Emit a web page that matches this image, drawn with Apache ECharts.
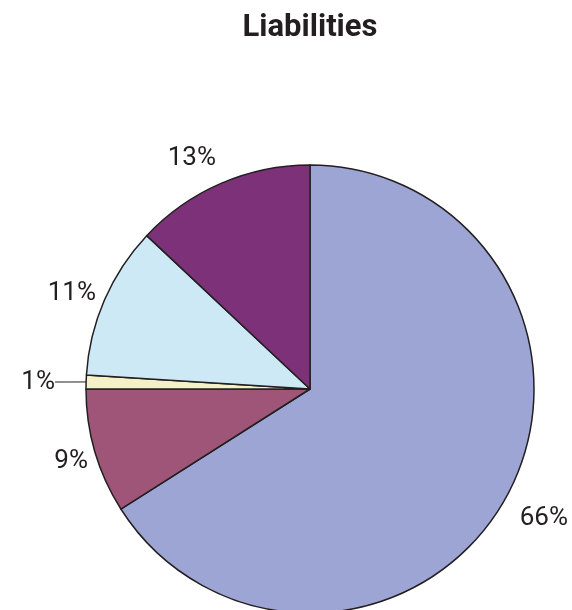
<!DOCTYPE html>
<html>
<head>
<meta charset="utf-8">
<style>
  html, body { margin: 0; padding: 0; background: #ffffff; }
  #chart { width: 572px; height: 610px; }
</style>
<script src="https://cdn.jsdelivr.net/npm/echarts@6/dist/echarts.min.js"></script>
</head>
<body>
<div id="chart"></div>
<script>
// Liabilities breakdown, in percent
const categories = ['A', 'B', 'C', 'D', 'E'];
const shares = [66, 9, 1, 11, 13];
const sliceColors = ['#9da5d5', '#9e5578', '#f4f1c8', '#cde9f6', '#7d3179'];

// where each percentage label sits (x, y, alignment)
const labelSpots = [
  { x: 568, y: 518, align: 'right' },
  { x: 88, y: 461, align: 'right' },
  { x: 55, y: 382, align: 'right' },
  { x: 96, y: 293, align: 'right' },
  { x: 216, y: 158, align: 'right' }
];

const chart = echarts.init(document.getElementById('chart'), null, { renderer: 'canvas' });

chart.setOption({
  animation: false,
  title: {
    text: 'Liabilities',
    left: 305,
    top: 8,
    textAlign: 'center',
    textStyle: {
      fontFamily: 'Roboto',
      fontWeight: 'bold',
      fontSize: 31,
      color: '#231f20'
    }
  },
  series: [{
    type: 'pie',
    center: [310, 389],
    radius: 224,
    startAngle: 90,
    clockwise: true,
    itemStyle: {
      borderColor: '#231f20',
      borderWidth: 1.5
    },
    label: {
      show: true,
      position: 'outside',
      formatter: '{c}%',
      overflow: 'none',
      edgeDistance: 0,
      fontFamily: 'Roboto',
      fontSize: 26,
      color: '#231f20'
    },
    labelLine: { show: false },
    labelLayout: function (p) {
      const s = labelSpots[p.dataIndex];
      return { x: s.x, y: s.y, align: s.align, verticalAlign: 'middle' };
    },
    data: categories.map(function (name, i) {
      const item = {
        name: name,
        value: shares[i],
        itemStyle: { color: sliceColors[i] }
      };
      if (shares[i] === 1) {
        item.labelLine = {
          show: true,
          length: 10,
          length2: 10,
          lineStyle: { color: '#231f20', width: 1 }
        };
      }
      return item;
    })
  }]
});
</script>
</body>
</html>
